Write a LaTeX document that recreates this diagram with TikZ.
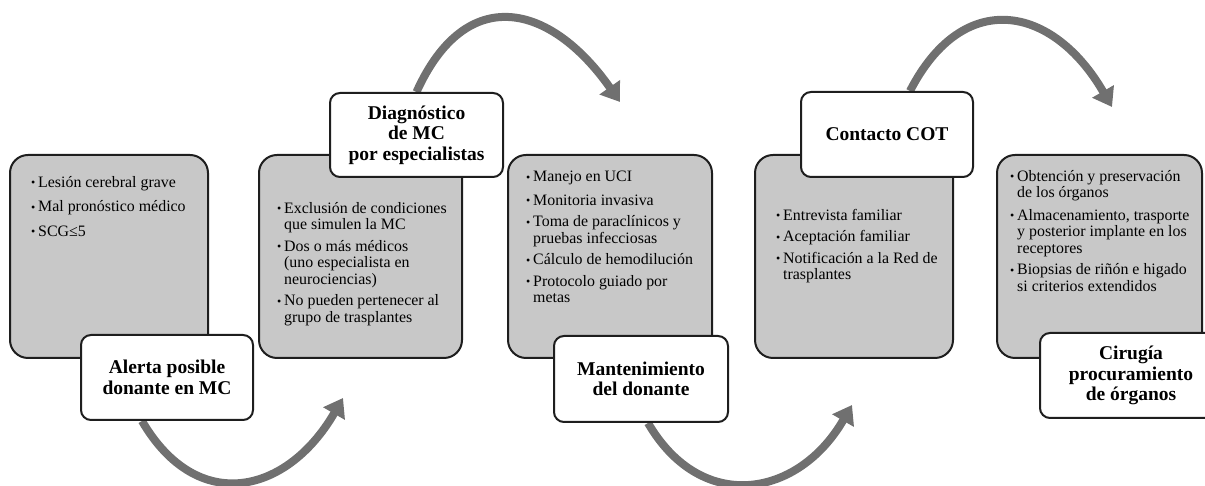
\documentclass[tikz,border=0pt]{standalone}
\usepackage{fontspec}
\setmainfont{Liberation Serif}
\usetikzlibrary{arrows.meta,backgrounds,calc}
\definecolor{boxgray}{HTML}{C8C8C8}
\definecolor{arrowgray}{HTML}{707070}
\definecolor{edgecol}{HTML}{1E1E1E}
\newcommand{\bl}{\makebox[7pt][l]{\fontsize{12}{12}\selectfont\raisebox{0.5pt}{•}}}
\newcommand{\ind}{\hspace*{7pt}}
\begin{document}
\begin{tikzpicture}[x=1pt,y=1pt,
  graybox/.style={draw=edgecol, line width=2pt, fill=boxgray, rounded corners=18pt, minimum height=203pt, inner sep=0pt},
  titlebox/.style={draw=edgecol, line width=2pt, fill=white, rounded corners=10pt, minimum height=85pt, inner sep=0pt, align=center, font=\fontsize{19.5}{20.5}\selectfont\bfseries},
  listtext/.style={anchor=north west, inner sep=0pt, align=left, font=\fontsize{15.9}{16.5}\selectfont},
  flow/.style={draw=arrowgray, line width=8pt, -{Triangle[length=18pt,width=24pt]}}]
\useasboundingbox (0,0) rectangle (1205,486);
\clip (0,0) rectangle (1205,486);
% grey content boxes
\node[graybox, minimum width=198pt] (g1) at (109,229.5) {};
\node[graybox, minimum width=203pt] (g2) at (360.5,229.5) {};
\node[graybox, minimum width=204pt] (g3) at (610,229.5) {};
\node[graybox, minimum width=198pt] (g4) at (854,229.5) {};
\node[graybox, minimum width=205pt] (g5) at (1099.5,229.5) {};
% lists
\node[listtext] (l1) at (31,310) {\bl Lesión cerebral grave\\[8pt]\bl Mal pronóstico médico\\[8pt]\bl SCG≤5};
\node[listtext] (l2) at (277,284) {\bl Exclusión de condiciones\\\ind que simulen la MC\\[5pt]\bl Dos o más médicos\\\ind (uno especialista en\\\ind neurociencias)\\[5pt]\bl No pueden pertenecer al\\\ind grupo de trasplantes};
\node[listtext] (l3) at (526,315) {\bl Manejo en UCI\\[7pt]\bl Monitoria invasiva\\[5pt]\bl Toma de paraclínicos y\\\ind pruebas infecciosas\\[5pt]\bl Cálculo de hemodilución\\[5pt]\bl Protocolo guiado por\\\ind metas};
\node[listtext] (l4) at (776,277) {\bl Entrevista familiar\\[5pt]\bl Aceptación familiar\\[5pt]\bl Notificación a la Red de\\\ind trasplantes};
\node[listtext] (l5) at (1010,316) {\bl Obtención y preservación\\\ind de los órganos\\[6pt]\bl Almacenamiento, trasporte\\\ind y posterior implante en los\\\ind receptores\\[5pt]\bl Biopsias de riñón e higado\\\ind si criterios extendidos};
% title boxes
\node[titlebox, minimum width=172pt] (w1) at (167,108.5) {Alerta posible\\donante en MC};
\node[titlebox, minimum width=173pt, minimum height=84pt] (w2) at (416.5,351) {Diagnóstico\\de MC\\por especialistas};
\node[titlebox, minimum width=174pt, minimum height=86pt] (w3) at (641,107) {Mantenimiento\\del donante};
\node[titlebox, minimum width=172pt] (w4) at (887,351.5) {Contacto COT};
\node[titlebox, minimum width=182pt] (w5) at (1131,110.5) {Cirugía\\procuramiento\\de órganos};
% curved arrows
\begin{pgfonlayer}{background}
\clip (0,0) rectangle (1205,486);
\coordinate (t1) at (343,88);
\coordinate (t2) at (620,384);
\coordinate (t3) at (852,81);
\coordinate (t4) at (1112,379);
\draw[flow] ($(w1.south)+(-25,0)$) .. controls (197.5,-30) and (287.5,-8) .. (t1);
\draw[flow] (w2.north) .. controls (466,503.6) and (550.5,483) .. (t2);
\draw[flow] ($(w3.south)+(7,0)$) .. controls (701.5,-28.7) and (798.5,-11.7) .. (t3);
\draw[flow] ($(w4.north)+(23,0)$) .. controls (963.4,498.9) and (1053.1,480.9) .. (t4);
\end{pgfonlayer}
\end{tikzpicture}
\end{document}
